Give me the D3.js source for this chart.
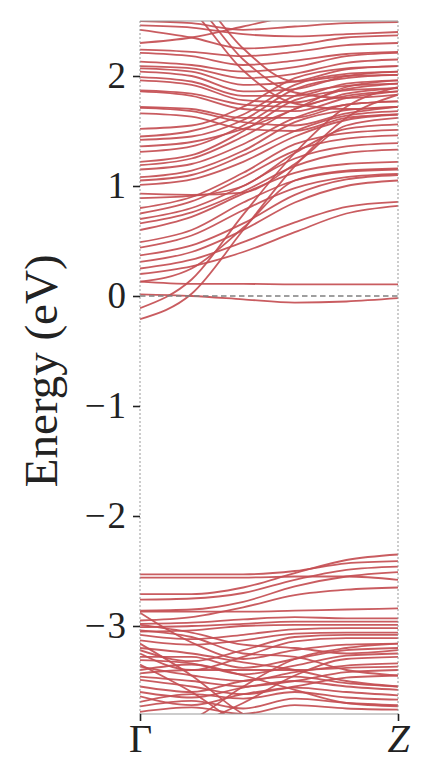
<!DOCTYPE html>
<html>
<head>
<meta charset="utf-8">
<script src="https://cdn.jsdelivr.net/npm/d3@7"></script>
<style>
  html, body { margin: 0; padding: 0; background: #fff; }
  text { font-family: "Liberation Serif", "DejaVu Serif", serif; fill: #222; }
</style>
</head>
<body>
<div id="chart"></div>
<script>
"use strict"

// k-path positions (fraction of Γ → Z) where band energies were read
const kPoints = [0, 0.2, 0.4, 0.6, 0.8, 1.0]
const kLabels = ["Γ", "Z"]
const kLabelPos = [0, 1]
const yTicks = [-3, -2, -1, 0, 1, 2]
const fermiLevel = 0

// bands near the Fermi level and the conduction bands (eV)
const conductionBands = [
  [0.015, 0.00, -0.03, -0.06, -0.05, -0.02],
  [0.13, 0.11, 0.11, 0.105, 0.105, 0.105],
  [-0.11, 0.15, 0.74, 1.30, 1.72, 1.90],
  [-0.21, 0.02, 0.60, 1.18, 1.62, 1.83],
  [0.20, 0.27, 0.40, 0.58, 0.75, 0.82],
  [0.25, 0.33, 0.49, 0.67, 0.81, 0.855],
  [0.31, 0.40, 0.60, 0.85, 1.00, 1.05],
  [0.37, 0.46, 0.66, 0.92, 1.06, 1.10],
  [0.44, 0.55, 0.78, 0.98, 1.08, 1.11],
  [0.49, 0.60, 0.85, 1.05, 1.13, 1.15],
  [0.13, 0.25, 0.62, 1.05, 1.14, 1.16],
  [0.60, 0.72, 0.93, 1.12, 1.20, 1.22],
  [0.66, 0.76, 0.95, 1.18, 1.30, 1.33],
  [0.70, 0.80, 1.00, 1.25, 1.36, 1.39],
  [0.75, 0.86, 1.08, 1.32, 1.43, 1.46],
  [0.80, 0.90, 1.12, 1.38, 1.48, 1.51],
  [0.89, 0.91, 1.00, 1.30, 1.52, 1.56],
  [0.93, 0.92, 0.94, 1.20, 1.55, 1.62],
  [1.01, 1.06, 1.22, 1.45, 1.60, 1.65],
  [1.05, 1.10, 1.28, 1.50, 1.64, 1.68],
  [1.08, 1.14, 1.32, 1.58, 1.69, 1.72],
  [1.15, 1.20, 1.38, 1.62, 1.74, 1.77],
  [1.19, 1.25, 1.45, 1.70, 1.82, 1.86],
  [1.22, 1.28, 1.50, 1.78, 1.87, 1.89],
  [1.31, 1.36, 1.55, 1.82, 1.91, 1.93],
  [1.36, 1.40, 1.52, 1.70, 1.90, 1.96],
  [1.42, 1.45, 1.60, 1.88, 1.98, 2.01],
  [1.45, 1.50, 1.65, 1.92, 2.02, 2.04],
  [1.52, 1.55, 1.72, 1.98, 2.07, 2.09],
  [1.66, 1.63, 1.52, 1.50, 1.62, 1.65],
  [1.71, 1.68, 1.58, 1.55, 1.66, 1.72],
  [1.72, 1.70, 1.62, 1.62, 1.74, 1.77],
  [1.86, 1.82, 1.70, 1.68, 1.80, 1.86],
  [1.87, 1.84, 1.74, 1.72, 1.84, 1.89],
  [1.96, 1.92, 1.78, 1.76, 1.88, 1.93],
  [1.99, 1.95, 1.82, 1.82, 1.93, 1.96],
  [2.04, 2.00, 1.86, 1.88, 2.00, 2.04],
  [2.07, 2.04, 1.92, 1.95, 2.06, 2.09],
  [2.09, 2.07, 1.98, 2.02, 2.12, 2.15],
  [2.13, 2.10, 2.04, 2.08, 2.18, 2.21],
  [2.21, 2.18, 2.10, 2.14, 2.20, 2.22],
  [2.24, 2.22, 2.18, 2.22, 2.28, 2.30],
  [2.42, 2.35, 2.25, 2.28, 2.35, 2.37],
  [2.46, 2.44, 2.38, 2.36, 2.38, 2.40],
  [2.90, 2.60, 2.05, 1.75, 1.70, 1.72],
  [3.00, 2.70, 2.15, 1.85, 1.80, 1.83],
  [3.10, 2.80, 2.25, 1.95, 2.00, 2.01],
  [2.30, 2.35, 2.45, 2.55, 2.60, 2.65],
  [2.50, 2.48, 2.42, 2.45, 2.48, 2.49]
]

// valence bands (eV)
const valenceBands = [
  [-2.53, -2.53, -2.53, -2.50, -2.43, -2.41],
  [-2.56, -2.56, -2.56, -2.55, -2.55, -2.58],
  [-2.71, -2.71, -2.65, -2.52, -2.40, -2.35],
  [-2.76, -2.75, -2.70, -2.58, -2.49, -2.46],
  [-2.86, -2.85, -2.78, -2.64, -2.55, -2.51],
  [-2.95, -2.92, -2.83, -2.72, -2.67, -2.65],
  [-2.87, -2.87, -2.87, -2.86, -2.85, -2.84],
  [-2.88, -3.15, -3.30, -3.22, -3.17, -3.16],
  [-2.98, -2.97, -2.94, -2.92, -2.93, -2.93],
  [-3.01, -3.00, -2.98, -2.96, -2.96, -2.96],
  [-3.05, -3.04, -3.00, -2.99, -2.99, -2.99],
  [-3.08, -3.12, -3.08, -3.03, -3.02, -3.02],
  [-3.13, -3.17, -3.13, -3.07, -3.06, -3.06],
  [-3.22, -3.32, -3.22, -3.10, -3.08, -3.08],
  [-3.25, -3.40, -3.28, -3.14, -3.11, -3.11],
  [-3.28, -3.28, -3.38, -3.30, -3.22, -3.20],
  [-3.31, -3.34, -3.44, -3.36, -3.27, -3.25],
  [-3.37, -3.45, -3.50, -3.42, -3.36, -3.34],
  [-3.43, -3.40, -3.40, -3.40, -3.38, -3.37],
  [-3.46, -3.50, -3.55, -3.50, -3.42, -3.40],
  [-3.49, -3.55, -3.62, -3.55, -3.47, -3.45],
  [-3.55, -3.60, -3.50, -3.46, -3.52, -3.55],
  [-3.60, -3.65, -3.56, -3.50, -3.55, -3.58],
  [-3.64, -3.72, -3.62, -3.56, -3.60, -3.63],
  [-3.69, -3.62, -3.66, -3.60, -3.65, -3.67],
  [-3.73, -3.68, -3.75, -3.66, -3.70, -3.72],
  [-3.78, -3.74, -3.80, -3.72, -3.75, -3.76],
  [-3.16, -3.45, -3.80, -3.95, -3.90, -3.90],
  [-3.35, -3.60, -3.90, -4.00, -4.00, -4.00],
  [-3.95, -3.85, -3.55, -3.30, -3.20, -3.16],
  [-4.00, -3.90, -3.70, -3.45, -3.30, -3.28],
  [-3.20, -3.25, -3.33, -3.40, -3.50, -3.55],
  [-3.40, -3.35, -3.45, -3.58, -3.70, -3.73],
  [-2.99, -3.06, -3.17, -3.20, -3.25, -3.22],
  [-3.04, -3.10, -3.25, -3.28, -3.40, -3.45]
]

const W = 429, H = 781
const margin = {top: 21, right: 31, bottom: 67, left: 140}
const width = W - margin.left - margin.right,
      height = H - margin.top - margin.bottom

const svg = d3.select("#chart")
  .append("svg")
  .attr("width", W)
  .attr("height", H)

const g = svg.append("g")
  .attr("transform", "translate(" + margin.left + "," + margin.top + ")")

const x = d3.scaleLinear().domain([0, 1]).range([0, width])
const y = d3.scaleLinear().domain([-3.8, 2.5]).range([height, 0])

g.append("clipPath").attr("id", "clip")
  .append("rect").attr("width", width).attr("height", height)

const line = d3.line()
  .x((d, i) => x(kPoints[i]))
  .y(d => y(d))
  .curve(d3.curveMonotoneX)

const bands = g.append("g").attr("clip-path", "url(#clip)")

bands.selectAll("path")
  .data(conductionBands.concat(valenceBands))
  .join("path")
  .attr("fill", "none")
  .attr("stroke", "#c44e52")
  .attr("stroke-opacity", 0.92)
  .attr("stroke-width", 1.8)
  .attr("d", line)

// Fermi level
g.append("line")
  .attr("x1", 0).attr("x2", width)
  .attr("y1", y(fermiLevel)).attr("y2", y(fermiLevel))
  .attr("stroke", "#808080")
  .attr("stroke-width", 1.5)
  .attr("stroke-dasharray", "5.5,3.5")

// high-symmetry lines
g.selectAll(".hsym")
  .data(kLabelPos)
  .join("line")
  .attr("class", "hsym")
  .attr("x1", d => x(d)).attr("x2", d => x(d))
  .attr("y1", 0).attr("y2", height)
  .attr("stroke", "#999")
  .attr("stroke-width", 1)
  .attr("stroke-dasharray", "2,2")

// top and bottom spines
g.append("line")
  .attr("x1", 0).attr("x2", width).attr("y1", 0).attr("y2", 0)
  .attr("stroke", "#999").attr("stroke-width", 1)
g.append("line")
  .attr("x1", 0).attr("x2", width).attr("y1", height).attr("y2", height)
  .attr("stroke", "#999").attr("stroke-width", 1)

// y axis
const yAxis = g.append("g")
  .call(d3.axisLeft(y).tickValues(yTicks).tickSize(7).tickPadding(5)
    .tickFormat(d => d < 0 ? "\u2212" + Math.abs(d) : d))
yAxis.select(".domain").remove()
yAxis.selectAll(".tick line").attr("stroke", "#222").attr("stroke-width", 1.6)
yAxis.selectAll(".tick text")
  .attr("font-size", 37)
  .attr("font-family", "Liberation Serif, DejaVu Serif, serif")
  .attr("fill", "#222")
  .attr("letter-spacing", 2)

// x axis
const xAxis = g.append("g")
  .attr("transform", "translate(0," + height + ")")
  .call(d3.axisBottom(x).tickValues(kLabelPos).tickSize(7).tickPadding(3)
    .tickFormat((d, i) => kLabels[i]))
xAxis.select(".domain").remove()
xAxis.selectAll(".tick line").attr("stroke", "#222").attr("stroke-width", 1.6)
xAxis.selectAll(".tick text")
  .attr("font-size", 40)
  .attr("font-family", "Liberation Serif, DejaVu Serif, serif")
  .attr("fill", "#222")
  .attr("font-style", (d, i) => i === 1 ? "italic" : "normal")

// y label
svg.append("text")
  .attr("transform", "translate(57," + (margin.top + y(-0.68)) + ") rotate(-90)")
  .attr("text-anchor", "middle")
  .attr("font-size", 47)
  .text("Energy (eV)")
</script>
</body>
</html>
